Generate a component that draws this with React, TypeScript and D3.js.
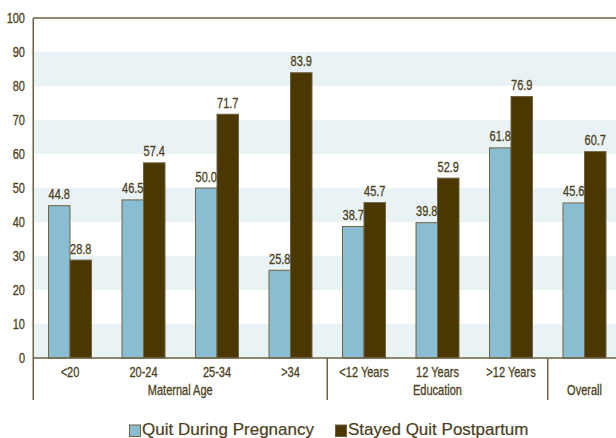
import React from "react";
import * as d3 from "d3";

const categories = ["<20", "20-24", "25-34", ">34", "<12 Years", "12 Years", ">12 Years", "Overall"];
const tickLabels = ["<20", "20-24", "25-34", ">34", "<12 Years", "12 Years", ">12 Years", ""];
const quitDuring = [44.8, 46.5, 50.0, 25.8, 38.7, 39.8, 61.8, 45.6];
const stayedQuit = [28.8, 57.4, 71.7, 83.9, 45.7, 52.9, 76.9, 60.7];
const groups = [
  { label: "Maternal Age", from: 0, to: 3 },
  { label: "Education", from: 4, to: 6 },
  { label: "Overall", from: 7, to: 7 },
];
const yTicks = [0, 10, 20, 30, 40, 50, 60, 70, 80, 90, 100];
const seriesNames = ["Quit During Pregnancy", "Stayed Quit Postpartum"];

const W = 616, H = 438;
const left = 33.25, top = 18, bottom = 358;
const step = 73.5;
const textColor = "#4b4020";
const axisColor = "#6f6342";
const blue = "#89bed2";
const brown = "#4a3800";
const band = "#e9f3f6";
const font = "'Liberation Sans', Arial, sans-serif";

function CText({ x, y, size, anchor = "middle", children }: { x: number; y: number; size: number; anchor?: string; children: any }) {
  return (
    <text
      transform={`translate(${x},${y}) scale(0.76,1)`}
      textAnchor={anchor as any}
      fontSize={size}
      fontFamily={font}
      fill={textColor}
      stroke={textColor}
      strokeWidth={0.3}
    >
      {children}
    </text>
  );
}

export default function App() {
  const x = d3.scaleBand<string>().domain(categories).range([left, left + step * categories.length]).paddingInner(0).paddingOuter(0);
  const y = d3.scaleLinear().domain([0, 100]).range([bottom, top]);
  const barW = 21.5;
  const bands = [0, 20, 40, 60, 80];

  return (
    <svg width={W} height={H} style={{ position: "absolute", left: 0, top: 0, background: "#fff" }}>
      {bands.map((b) => (
        <rect key={b} x={left} y={y(b + 10)} width={W - left} height={y(b) - y(b + 10)} fill={band} />
      ))}
      {categories.map((c, i) => {
        const cx = (x(c) as number) + x.bandwidth() / 2;
        return (
          <g key={c}>
            <rect x={cx - barW} y={y(quitDuring[i])} width={barW} height={y(0) - y(quitDuring[i])} fill={blue} stroke={axisColor} strokeWidth={1} />
            <rect x={cx} y={y(stayedQuit[i])} width={barW} height={y(0) - y(stayedQuit[i])} fill={brown} stroke={axisColor} strokeWidth={1} />
            <CText x={cx - barW / 2} y={y(quitDuring[i]) - 6.5} size={14.5}>{quitDuring[i].toFixed(1)}</CText>
            <CText x={cx + barW / 2} y={y(stayedQuit[i]) - 6.5} size={14.5}>{stayedQuit[i].toFixed(1)}</CText>
            <CText x={cx} y={377} size={14.5}>{tickLabels[i]}</CText>
          </g>
        );
      })}
      <line x1={left} x2={W} y1={top} y2={top} stroke={axisColor} strokeWidth={1.5} />
      <line x1={left} x2={W} y1={bottom} y2={bottom} stroke={axisColor} strokeWidth={1.5} />
      <line x1={left} x2={left} y1={top} y2={400} stroke={axisColor} strokeWidth={1.5} />
      {groups.slice(0, -1).map((g) => {
        const sx = (x(categories[g.to]) as number) + x.bandwidth();
        return <line key={g.label} x1={sx} x2={sx} y1={bottom} y2={400} stroke={axisColor} strokeWidth={1.5} />;
      })}
      {groups.map((g) => {
        const a = x(categories[g.from]) as number;
        const b = (x(categories[g.to]) as number) + x.bandwidth();
        return (
          <CText key={g.label} x={(a + b) / 2} y={395} size={14.5}>{g.label}</CText>
        );
      })}
      {yTicks.map((t) => (
        <CText key={t} x={25} y={y(t) + 4.8} size={14.5} anchor="end">{t}</CText>
      ))}
      <rect x={129.5} y={425} width={11} height={11.5} fill={blue} stroke={axisColor} strokeWidth={1} />
      <text x={142} y={434.5} fontSize={17} fontFamily={font} fill={textColor} stroke={textColor} strokeWidth={0.2}>{seriesNames[0]}</text>
      <rect x={335.5} y={425} width={11} height={11.5} fill={brown} stroke={axisColor} strokeWidth={1} />
      <text x={348} y={434.5} fontSize={17} fontFamily={font} fill={textColor} stroke={textColor} strokeWidth={0.2}>{seriesNames[1]}</text>
    </svg>
  );
}
